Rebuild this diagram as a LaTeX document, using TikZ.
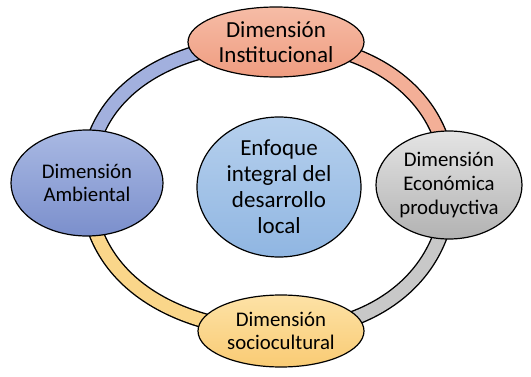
\documentclass[tikz,border=0pt]{standalone}
\usepackage{fontspec}
\setmainfont{Carlito}
\usepackage{xcolor}
\usetikzlibrary{shapes.geometric,backgrounds}
\definecolor{salmonA}{HTML}{F6BCA6}
\definecolor{salmonB}{HTML}{EF9C80}
\definecolor{salmonR}{HTML}{F3AF97}
\definecolor{lilaA}{HTML}{A9B9E3}
\definecolor{lilaB}{HTML}{7B8FCC}
\definecolor{lilaR}{HTML}{A2B0DE}
\definecolor{celesteA}{HTML}{B6D0ED}
\definecolor{celesteB}{HTML}{90B6E2}
\definecolor{grisA}{HTML}{E4E4E4}
\definecolor{grisB}{HTML}{B2B2B2}
\definecolor{grisR}{HTML}{C8C8C8}
\definecolor{amarilloA}{HTML}{FDE2A6}
\definecolor{amarilloB}{HTML}{F9CB74}
\definecolor{amarilloR}{HTML}{FAD68A}
\tikzset{dim node/.style={ellipse,draw=black,line width=0.6pt,inner sep=-8pt,align=center,
  font=\fontsize{10.4}{11.8}\selectfont},}
\tikzset{ring/.style={line width=0.7pt,double distance=6.4pt},}

\begin{document}
\begin{tikzpicture}[x=0.5pt,y=0.5pt]
       \useasboundingbox (0,0) rectangle (531,376);
       \node[dim node,minimum width=88pt,minimum height=35pt,top color=salmonA,bottom color=salmonB,
         font=\fontsize{11.5}{12.8}\selectfont] (inst) at (276,334) {Dimensión\\Institucional};
       \node[dim node,minimum width=76pt,minimum height=53pt,top color=lilaA,bottom color=lilaB] (amb) at (87,193) {Dimensión\\Ambiental};
       \node[dim node,minimum width=73pt,minimum height=54pt,top color=grisA,bottom color=grisB] (eco) at (449,191) {Dimensión\\Económica\\produyctiva};
       \node[dim node,minimum width=83pt,minimum height=36pt,top color=amarilloA,bottom color=amarilloB] (soc) at (281,45) {Dimensión\\sociocultural};
       \node[dim node,minimum width=82pt,minimum height=70pt,top color=celesteA,bottom color=celesteB,
         font=\fontsize{11.5}{13}\selectfont] (enf) at (279,189) {Enfoque\\integral del\\desarrollo\\local};

       \begin{pgfonlayer}{background}
       \draw[ring,double=lilaR] (amb.center) to[out=90,in=180,looseness=1.05] (inst.center);
       \draw[ring,double=salmonR] (inst.center) to[out=0,in=90,looseness=1.05] (eco.center);
       \draw[ring,double=grisR] (eco.center) to[out=-90,in=0,looseness=1.05] (soc.center);
       \draw[ring,double=amarilloR] (soc.center) to[out=180,in=-90,looseness=1.05] (amb.center);
       \end{pgfonlayer}
    \end{tikzpicture}
\end{document}
